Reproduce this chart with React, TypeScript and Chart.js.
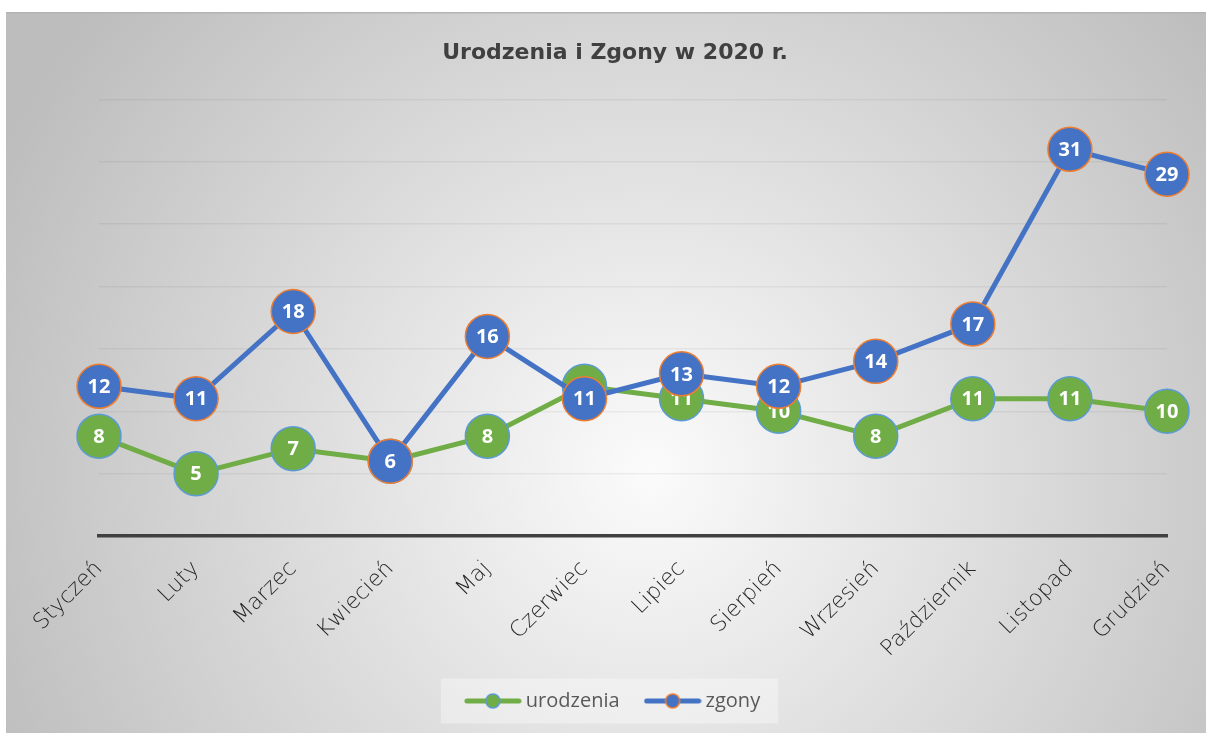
import React, { useEffect, useRef } from "react";
import { Chart, registerables } from "chart.js";

Chart.register(...registerables);

const months = [
  "Styczeń", "Luty", "Marzec", "Kwiecień", "Maj", "Czerwiec",
  "Lipiec", "Sierpień", "Wrzesień", "Październik", "Listopad", "Grudzień",
];
const urodzenia = [8, 5, 7, 6, 8, 12, 11, 10, 8, 11, 11, 10];
const zgony = [12, 11, 18, 6, 16, 11, 13, 12, 14, 17, 31, 29];
const titleText = "Urodzenia i Zgony w 2020 r.";
const yMin = 0;
const yMax = 35;
const yStep = 5;

const GREEN = "#70AD47";
const BLUE = "#4472C4";
const GREEN_BORDER = "#5B9BD5";
const BLUE_BORDER = "#ED7D31";

function makeLegendSymbol(fill: string, border: string): HTMLCanvasElement {
  const c = document.createElement("canvas");
  c.width = 58;
  c.height = 18;
  const ctx = c.getContext("2d")!;
  ctx.strokeStyle = fill;
  ctx.lineWidth = 5;
  ctx.lineCap = "round";
  ctx.beginPath();
  ctx.moveTo(3, 9);
  ctx.lineTo(55, 9);
  ctx.stroke();
  ctx.beginPath();
  ctx.arc(29, 9, 7, 0, Math.PI * 2);
  ctx.fillStyle = fill;
  ctx.fill();
  ctx.lineWidth = 1.5;
  ctx.strokeStyle = border;
  ctx.stroke();
  return c;
}

const backgroundPlugin = {
  id: "bgPlugin",
  beforeDraw(chart: any) {
    const { ctx, width, height } = chart;
    ctx.save();
    ctx.fillStyle = "#ffffff";
    ctx.fillRect(0, 0, width, height);
    const x0 = 6, y0 = 12;
    const g = ctx.createRadialGradient(650, 470, 0, 650, 470, 720);
    g.addColorStop(0, "#fbfbfb");
    g.addColorStop(1, "#bdbdbd");
    ctx.fillStyle = g;
    ctx.fillRect(x0, y0, width - x0, height - y0);
    ctx.fillStyle = "#b4b4b4";
    ctx.fillRect(x0, y0, width - x0, 1.5);
    const lg = chart.legend;
    if (lg && lg.legendHitBoxes && lg.legendHitBoxes.length) {
      const hbs = lg.legendHitBoxes;
      const first = hbs[0];
      const last = hbs[hbs.length - 1];
      const cy = first.top + first.height / 2;
      const left = first.left - 29;
      const right = last.left + last.width + 18;
      ctx.fillStyle = "rgba(255,255,255,0.35)";
      ctx.fillRect(left, cy - 22.5, right - left, 45);
    }
    ctx.restore();
  },
};

const dataLabelPlugin = {
  id: "dataLabels",
  afterDatasetDraw(chart: any, args: any) {
    const { ctx } = chart;
    const meta = args.meta;
    const ds = chart.data.datasets[args.index];
    ctx.save();
    ctx.font = "bold 20px 'Open Sans'";
    ctx.fillStyle = "#ffffff";
    ctx.textAlign = "center";
    ctx.textBaseline = "middle";
    meta.data.forEach((pt: any, i: number) => {
      ctx.fillText(String(ds.data[i]), pt.x, pt.y + 1);
    });
    ctx.restore();
  },
};

export default function App() {
  const ref = useRef<HTMLCanvasElement | null>(null);

  useEffect(() => {
    if (!ref.current) return;
    const symbols = [
      makeLegendSymbol(GREEN, GREEN_BORDER),
      makeLegendSymbol(BLUE, BLUE_BORDER),
    ];
    const chart = new Chart(ref.current, {
      type: "line",
      data: {
        labels: months,
        datasets: [
          {
            label: "urodzenia",
            data: urodzenia,
            borderColor: GREEN,
            backgroundColor: GREEN,
            borderWidth: 5,
            pointRadius: 22,
            pointHoverRadius: 22,
            pointBackgroundColor: GREEN,
            pointBorderColor: GREEN_BORDER,
            pointBorderWidth: 1.5,
            tension: 0,
            order: 2,
          },
          {
            label: "zgony",
            data: zgony,
            borderColor: BLUE,
            backgroundColor: BLUE,
            borderWidth: 5,
            pointRadius: 22,
            pointHoverRadius: 22,
            pointBackgroundColor: BLUE,
            pointBorderColor: BLUE_BORDER,
            pointBorderWidth: 1.5,
            tension: 0,
            order: 1,
          },
        ],
      },
      options: {
        animation: false,
        responsive: false,
        maintainAspectRatio: false,
        events: [],
        layout: { padding: { left: 63, right: 39, top: 0, bottom: 12 } },
        plugins: {
          tooltip: { enabled: false },
          title: {
            display: true,
            text: titleText,
            color: "#404040",
            font: { family: "'DejaVu Sans'", size: 22, weight: "bold" },
            padding: { top: 40, bottom: 33 },
          },
          legend: {
            display: true,
            position: "bottom",
            labels: {
              usePointStyle: true,
              pointStyleWidth: 46,
              padding: 30,
              color: "#595959",
              font: { family: "'Open Sans'", size: 20 },
              generateLabels(c: any) {
                const items = Chart.defaults.plugins.legend.labels.generateLabels(c);
                return items.map((it: any) => ({
                  ...it,
                  pointStyle: symbols[it.datasetIndex],
                }));
              },
              sort: (a: any, b: any) => a.datasetIndex - b.datasetIndex,
            },
          },
        },
        scales: {
          x: {
            offset: false,
            grid: { display: false, drawTicks: false },
            border: { display: true, color: "#404040", width: 3.5 },
            ticks: {
              minRotation: 45,
              maxRotation: 45,
              autoSkip: false,
              padding: 20,
              color: "#262626",
              font: { family: "'DejaVu Sans'", size: 22, weight: "300" },
            },
            afterFit(scale: any) {
              scale.height = 125;
            },
          },
          y: {
            min: yMin,
            max: yMax,
            ticks: { display: false, stepSize: yStep },
            grid: { color: "rgba(0,0,0,0.05)", lineWidth: 1.5, drawTicks: false },
            border: { display: false },
            afterFit(scale: any) {
              scale.width = 36;
            },
          },
        },
      },
      plugins: [backgroundPlugin, dataLabelPlugin],
    });
    return () => chart.destroy();
  }, []);

  return (
    <div style={{ position: "absolute", left: 0, top: 0, width: 1206, height: 733 }}>
      <canvas ref={ref} width={1206} height={733} style={{ display: "block", width: 1206, height: 733 }} />
    </div>
  );
}
